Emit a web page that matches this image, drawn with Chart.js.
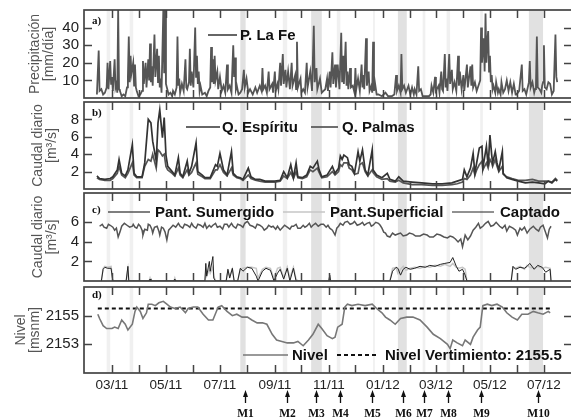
<!DOCTYPE html>
<html>
<head>
<meta charset="utf-8">
<script src="https://cdn.jsdelivr.net/npm/chart.js@4.4.1/dist/chart.umd.min.js"></script>
<style>
  html, body { margin: 0; padding: 0; background: #fff; width: 571px; height: 420px; overflow: hidden; position: relative; }
  .panel { position: absolute; left: 0; width: 580px; }
</style>
</head>
<body>
<div class="panel" style="top:0;height:100px"><canvas id="panelA" width="580" height="100"></canvas></div>
<div class="panel" style="top:100px;height:91px"><canvas id="panelB" width="580" height="91"></canvas></div>
<div class="panel" style="top:191px;height:92px"><canvas id="panelC" width="580" height="92"></canvas></div>
<div class="panel" style="top:283px;height:137px"><canvas id="panelD" width="580" height="137"></canvas></div>
<script>
// dias contados desde el 01/01/2011

// a) precipitacion diaria P. La Fe [mm/dia]
const diasPrecip = [
  42,44,45,47,49,51,53,54,55,57,58,59,60,62,63,64,65,66,67,68,
  70,72,74,76,77,78,79,80,81,83,84,85,86,87,89,91,93,94,95,97,
  98,100,101,102,103,104,105,107,108,110,111,112,113,114,115,117,118,119,120,121,
  123,125,127,128,130,132,133,134,135,136,138,140,142,143,144,146,147,148,149,151,
  153,154,155,156,157,158,159,161,164,166,168,170,171,172,173,174,175,176,178,179,
  181,183,185,187,189,190,192,194,196,197,198,199,200,202,204,206,208,209,211,213,
  215,218,221,223,226,228,229,230,232,234,236,237,240,241,243,244,246,247,249,250,
  252,253,255,256,258,260,262,263,266,267,268,269,272,273,275,277,279,280,283,285,
  287,288,290,291,294,296,298,300,302,303,305,306,308,309,311,312,314,316,318,319,
  320,321,323,324,325,326,328,329,331,333,334,335,337,339,341,342,343,344,346,347,
  349,350,352,353,354,355,356,358,360,364,368,371,375,378,380,381,383,385,386,387,
  389,391,394,396,398,400,401,403,405,406,408,410,413,417,419,420,422,424,425,428,
  429,431,432,433,435,436,437,438,440,441,443,444,446,448,450,451,452,454,456,457,
  460,461,464,465,466,467,469,471,473,475,476,477,479,480,481,482,483,484,485,486,
  487,488,489,490,492,493,495,496,498,499,501,503,505,507,509,511,513,515,516,519,
  522,523,525,527,530,531,532,534,536,537,538,539,540,542,544,545,546,547,548,550,
  552,554,556,558,560,561,562
];
const precipLaFe = [
  2,27,4,5,2,3,6,20,5,21,8,12,4,22,6,8,3,50,5,4,
  1,2,1,6,12,35,9,24,14,20,7,19,6,4,1,2,4,21,8,20,
  6,22,10,31,9,18,7,36,12,28,9,24,6,11,3,50,14,50,8,6,
  2,3,1,4,2,6,35,7,11,3,8,4,22,6,5,9,28,7,15,6,
  40,12,24,8,15,4,7,2,3,1,4,6,29,9,22,8,24,10,15,5,
  12,4,7,3,19,5,7,3,30,12,23,5,7,2,3,5,16,6,11,3,
  5,2,6,3,7,4,17,5,7,3,15,5,8,3,15,4,8,5,20,7,
  25,8,16,6,15,5,20,7,13,5,32,6,11,3,5,3,20,6,15,4,
  41,9,17,5,11,3,4,5,11,4,15,6,26,8,19,6,19,5,37,9,
  24,8,32,7,15,5,17,6,7,3,17,5,11,4,19,6,13,5,34,7,
  15,4,7,3,32,4,9,2,2,1,3,1,1,2,13,4,7,3,25,5,
  7,3,7,2,6,2,5,2,18,4,5,1,1,1,2,7,3,12,4,7,
  3,15,5,4,25,6,11,4,25,8,16,5,9,4,24,7,15,5,13,4,
  19,6,18,7,19,6,9,4,7,10,40,20,34,15,48,20,32,38,15,24,
  9,13,5,7,3,9,3,5,2,9,3,5,10,4,9,3,8,2,2,4,
  19,4,5,2,9,21,6,9,3,5,8,35,6,5,3,7,9,30,6,5,
  9,8,2,4,36,12,9
];

// b) caudal diario [m3/s]
const diasCaudal = [
  42,45,51,57,60,65,67,70,74,77, 82,84,87,93,96,100,103,105,109,111,
  113,116,118,120,122,127,130,134,136,139, 144,146,149,154,156,161,164,170,176,178,
  181,185,189,194,196,200,204,207,213,216, 221,226,232,238,243,249,253,257,261,264,
  267,269,274,279,283,286,291,293,296,302, 308,311,315,317,319,321,325,327,330,333,
  337,339,342,345,348,353,354,358,364,370, 373,379,383,388,398,409,421,432,443,449,
  455,457,460,464,467,469,471,474,477,478, 482,484,486,488,489,492,494,496,500,501,
  505,511,518,526,534,541,548,552,556,560, 562
];
const qEspiritu = [
  1.5,1.2,1.1,1.2,1.4,2.2,3.4,1.8,1.5,2.2, 5.1,1.8,1.4,1.4,3.0,8.0,7.6,5.5,3.2,7.6,
  9.1,5.9,8.2,3.9,2.6,2.0,1.6,3.6,1.8,1.4, 3.2,1.8,2.6,5.3,2.0,1.6,1.3,1.3,2.8,2.6,
  4.1,2.2,1.6,4.3,1.8,1.4,1.3,1.1,2.4,1.4, 1.1,1.1,0.9,0.9,0.9,1.0,2.0,1.3,2.8,1.3,
  3.0,1.4,1.3,1.6,2.6,2.4,3.2,2.2,1.4,1.6, 2.6,1.8,2.4,3.8,3.4,3.9,3.6,2.8,2.6,1.8,
  4.3,3.2,4.5,2.2,1.6,4.5,2.2,1.6,1.3,1.8, 1.1,0.9,1.4,0.9,0.8,0.7,0.6,0.6,0.7,0.9,
  1.1,2.2,1.4,2.4,4.1,1.8,3.0,4.7,4.9,2.4, 4.9,2.6,6.2,3.9,3.0,4.3,3.0,2.2,4.3,1.8,
  1.3,1.1,0.9,0.7,0.8,0.7,0.6,0.9,0.7,1.1, 0.9
];
const qPalmas = [
  1.3,1.1,1.0,1.0,1.2,1.8,2.6,1.6,1.3,1.8, 3.0,1.6,1.3,1.3,2.6,3.4,3.2,4.0,2.4,4.5,
  4.3,3.8,4.0,2.6,2.2,1.8,1.5,2.4,1.6,1.3, 2.2,1.6,1.9,3.0,1.7,1.4,1.2,1.2,2.2,2.2,
  2.8,1.9,1.5,2.4,1.6,1.3,1.2,1.0,1.6,1.2, 1.0,0.9,0.8,0.8,0.8,0.9,1.5,1.2,1.9,1.2,
  2.0,1.3,1.2,1.4,2.2,2.0,2.4,1.9,1.3,1.4, 2.0,1.6,2.0,2.8,2.6,3.0,3.0,2.4,2.2,1.7,
  1.8,2.8,3.0,2.0,1.5,2.2,1.9,1.4,1.1,1.2, 0.9,0.8,1.0,0.7,0.5,0.5,0.4,0.4,0.5,0.6,
  0.8,1.2,1.1,1.6,2.4,1.6,2.2,2.8,3.2,2.2, 3.0,2.4,3.4,3.0,2.6,3.4,2.6,2.0,2.6,1.7,
  1.4,1.2,1.0,1.0,1.1,0.9,0.9,0.9,0.8,1.2, 1.0
];

// c) caudales captados [m3/s]
const diasSumergido = [
  45,48,50,53,55,57,60,62,64,66,68,70,73,76,79,82,83,85,87,89,
  91,93,94,96,99,100,102,104,105,107,110,112,113,115,117,119,121,123,125,128,
  131,134,136,139,141,144,147,149,151,154,156,159,162,164,166,169,171,173,176,178,
  181,184,186,189,191,194,196,199,201,204,207,209,212,215,218,221,223,226,229,231,
  234,236,239,241,244,246,249,252,254,257,260,262,264,267,269,272,275,277,279,282,
  284,286,289,292,295,298,301,303,305,308,311,313,315,317,320,322,325,328,331,333,
  336,339,342,344,347,350,352,354,357,360,362,364,366,368,370,373,376,379,382,385,
  388,392,395,399,402,407,411,415,418,422,426,430,434,438,441,444,447,450,453,455,
  458,461,464,467,470,473,475,478,481,484,487,490,493,497,500,503,505,508,512,515,
  517,520,522,525,528,531,535,538,541,543,546,548,551,553,555
];
const pantSumergido = [
  5.6,5.8,5.5,5.4,5.8,5.7,5.5,5.2,5.4,4.5,5.0,5.6,5.9,5.7,5.5,5.6,5.8,5.5,5.4,5.8,
  5.6,5.2,4.7,5.3,5.2,5.8,5.7,5.3,4.9,5.5,5.6,5.1,4.7,5.5,5.4,5.0,4.2,5.2,5.4,5.7,
  5.5,5.9,5.6,5.4,5.8,5.7,5.5,5.9,5.6,5.4,5.8,5.7,5.5,5.9,5.4,5.7,5.5,5.7,5.9,5.5,
  5.6,5.3,5.8,5.8,5.5,5.9,5.6,5.4,5.8,5.7,5.5,5.9,6.1,5.7,5.6,5.4,5.8,5.7,5.5,5.2,
  5.4,5.7,5.5,5.6,5.3,5.6,5.2,5.5,5.7,5.5,5.3,5.6,5.6,5.8,5.4,5.4,5.7,5.5,5.6,5.9,
  5.5,5.7,5.9,5.6,5.8,5.8,5.5,5.7,5.4,5.2,4.7,5.4,5.6,5.9,5.7,6.0,6.1,5.8,5.9,6.1,
  5.7,5.8,6.0,5.7,5.9,6.0,5.6,5.7,6.0,5.9,5.7,5.4,5.0,4.9,4.6,4.5,4.9,4.7,4.8,4.9,
  4.6,4.7,4.9,4.8,4.6,4.6,4.8,4.7,4.5,4.5,4.8,4.7,4.5,4.4,4.6,4.5,4.3,4.0,4.3,3.5,
  4.7,4.2,4.6,5.2,5.5,5.9,5.4,5.6,5.9,6.1,5.6,5.7,6.0,5.6,5.4,5.7,5.1,5.6,5.4,5.2,
  4.7,5.4,5.2,5.5,4.9,5.3,5.6,5.3,5.1,5.5,5.7,5.2,4.4,5.3,5.6
];
const diasSuperficial = [
  47,49,51,54,58,60, 75,77,78, 101,102,103, 129,130,131,
  164,165,166,169,170,173,174,176, 188,190,192,195,197,
  201,204,207,212,217,222,224,229,233,238,242,246,249,253,257,260,264,267,269,
  304,305,306,
  373,376,380,382,385,388,391,396,401,407,413,418,424,430,435,441,444,448,451,455,458,460,
  510,512,515,520,525,528,531,536,540,545,549,554,555
];
const pantSuperficial = [
  0,1.3,1.5,1.4,1.5,0, 0,1.2,0, 0,0.3,0, 0,0.3,0,
  0,1.0,0.5,1.2,0.8,1.4,0.5,0, 0,1.0,0.5,1.2,0,
  0,1.2,1.3,1.4,1.4,1.3,0.3,1.2,1.4,1.3,0.2,1.3,1.4,0.3,1.4,0.3,1.4,0.2,0,
  0,0.4,0,
  0,1.3,1.4,0.8,1.2,1.5,1.1,1.3,1.4,1.3,1.5,1.4,1.6,1.5,1.7,1.5,1.8,1.4,1.3,1.4,1.2,0,
  0,1.4,1.3,1.5,1.2,1.6,1.4,1.3,1.5,1.3,1.4,1.3,0
];
const captado = [
  0,1.2,1.4,1.3,1.3,0, 0,1.5,0, 0,0.2,0, 0,0.2,0,
  0,1.8,0.5,2.0,1.0,2.5,0.3,0, 0,1.2,0.3,1.3,0,
  0,1.3,1.0,1.4,1.3,0.5,0,1.0,1.3,1.1,0,0.8,1.2,0.2,1.3,0,1.3,0,0,
  0,0.6,0,
  0,1.0,1.4,1.3,0.6,1.2,1.4,1.2,1.3,1.5,1.4,1.6,1.5,1.7,1.8,1.9,2.4,1.5,1.0,1.2,0.6,0,
  0,1.5,1.2,1.4,1.3,1.5,1.8,1.2,1.6,1.4,0.9,1.2,0
];

// d) nivel del embalse [msnm]
const diasNivel = [
  43,45,49,53,59,62,66,70,74,77, 82,85,87,91,94,98,100,104,108,112,
  117,121,125,130,136,142,145,151,156,162, 168,173,179,183,189,195,200,206,212,217,
  223,229,234,240,245,251,257,264,269,275, 281,286,292,296,302,308,311,314,319,322,
  325,330,337,345,353,358,364,368,373,379, 385,392,399,407,415,422,430,438,441,444,
  449,455,458,464,467,472,475,478,483,488, 494,500,505,511,517,522,529,535,540,546,
  552,554
];
const nivel = [
  2155.1,2154.8,2154.3,2154.1,2154.1,2154.2,2154.1,2154.7,2154.4,2154.0,
  2154.4,2155.3,2155.6,2155.3,2154.8,2155.2,2155.8,2155.8,2155.7,2155.9,
  2156.0,2155.8,2155.6,2155.5,2155.6,2155.2,2155.5,2155.6,2155.6,2155.1,
  2154.7,2154.7,2155.6,2155.7,2155.3,2155.0,2155.1,2154.9,2154.9,2154.7,
  2154.5,2154.5,2154.4,2153.7,2153.3,2153.2,2153.1,2153.1,2153.2,2152.9,
  2153.3,2153.7,2154.4,2154.1,2153.6,2153.4,2153.5,2154.2,2154.4,2155.6,
  2155.8,2155.7,2155.8,2155.7,2155.8,2155.5,2155.2,2154.9,2154.7,2154.4,
  2154.8,2154.9,2154.9,2154.7,2154.2,2153.7,2153.4,2153.0,2152.7,2153.3,
  2153.1,2152.9,2153.3,2153.0,2153.5,2154.0,2154.2,2155.7,2155.8,2155.7,
  2155.8,2155.6,2155.2,2154.9,2154.7,2155.1,2155.1,2155.3,2155.2,2155.1,
  2155.3,2155.2
];
const diasVertimiento = [43, 554];
const nivelVertimiento = 2155.5;

// ejes
const ticksPrecip = [10, 20, 30, 40];
const ticksCaudalB = [2, 4, 6, 8];
const ticksCaudalC = [2, 4, 6];
const ticksNivel = [2153, 2155];
const etiquetasMes = ['03/11', '05/11', '07/11', '09/11', '11/11', '01/12', '03/12', '05/12', '07/12'];

// campañas de muestreo y franjas sombreadas [inicio, fin, oscura]
const muestrasDia = [209, 257, 290, 317, 353, 388, 412, 439, 476, 540];
const muestrasEtiqueta = ['M1', 'M2', 'M3', 'M4', 'M5', 'M6', 'M7', 'M8', 'M9', 'M10'];
const franjas = [
  [53, 57, 0], [79, 83, 0], [204, 210, 1], [252, 257, 0], [284, 296, 1], [313, 317, 0],
  [354, 356, 0], [382, 392, 1], [410, 413, 0], [437, 441, 0], [475, 478, 0], [530, 546, 1]
];

const X_MIN = 27.4, X_MAX = 578.7;
const SANS = '"Liberation Sans", Arial, sans-serif';
const SERIF = '"Liberation Serif", "Times New Roman", serif';
const origen = Date.UTC(2011, 0, 1);
const diaDeMes = txt => {
  const [m, a] = txt.split('/').map(Number);
  return (Date.UTC(2000 + a, m - 1, 1) - origen) / 864e5;
};
const inicioMeses = [];
for (let k = 1; k <= 19; k++) inicioMeses.push((Date.UTC(2011, k, 1) - origen) / 864e5);

const puntos = (dias, valores) => dias.map((d, i) => ({ x: d, y: valores[i] }));

// sin relleno extra de Chart.js alrededor del area de datos
const sinRelleno = s => { s.paddingTop = 0; s.paddingBottom = 0; s.paddingLeft = 0; s.paddingRight = 0; };

const panelPlugin = {
  id: 'panel',
  beforeDatasetsDraw(chart) {
    const { ctx, chartArea: a } = chart;
    const x = chart.scales.x;
    ctx.save();
    franjas.forEach(([d0, d1, oscura]) => {
      const x0 = x.getPixelForValue(d0), x1 = x.getPixelForValue(d1);
      ctx.fillStyle = oscura ? '#e1e1e1' : '#f0f0f0';
      ctx.fillRect(x0, a.top, x1 - x0, a.bottom - a.top);
    });
    ctx.restore();
  },
  afterDatasetsDraw(chart) {
    const { ctx, chartArea: a } = chart;
    const x = chart.scales.x, y = chart.scales.y;
    ctx.save();
    ctx.strokeStyle = '#444';
    ctx.lineWidth = 1.5;
    ctx.beginPath();
    inicioMeses.forEach(d => {
      const px = Math.round(x.getPixelForValue(d)) + 0.5;
      if (px < a.left + 5 || px > a.right - 5) return;
      ctx.moveTo(px, a.top); ctx.lineTo(px, a.top + 8);
      ctx.moveTo(px, a.bottom); ctx.lineTo(px, a.bottom - 8);
    });
    y.ticks.forEach(t => {
      const py = Math.round(y.getPixelForValue(t.value)) + 0.5;
      ctx.moveTo(a.left, py); ctx.lineTo(a.left + 8, py);
      ctx.moveTo(a.right, py); ctx.lineTo(a.right - 8, py);
    });
    ctx.stroke();
    ctx.lineWidth = 1.7;
    ctx.strokeRect(a.left, a.top, a.right - a.left, a.bottom - a.top);
    ctx.restore();
  },
  afterDraw(chart, args, o) {
    const { ctx, chartArea: a } = chart;
    ctx.save();
    ctx.fillStyle = '#111';
    ctx.font = 'bold 11px ' + SERIF;
    ctx.textBaseline = 'middle';
    ctx.textAlign = 'left';
    ctx.fillText(o.letra, a.left + 8, a.top + o.letraY);

    o.leyenda.forEach(it => {
      const ds = chart.data.datasets[it.ds];
      ctx.strokeStyle = ds.borderColor;
      ctx.lineWidth = ds.borderWidth;
      ctx.setLineDash(ds.borderDash || []);
      ctx.beginPath();
      ctx.moveTo(it.x0, it.y); ctx.lineTo(it.x1, it.y);
      ctx.stroke();
      ctx.setLineDash([]);
      ctx.fillStyle = '#111';
      ctx.font = 'bold 15px ' + SANS;
      ctx.fillText(ds.label, it.tx, it.y + 1);
    });

    if (o.flechas) {
      const x = chart.scales.x;
      const base = chart.height;
      ctx.fillStyle = '#111';
      ctx.strokeStyle = '#111';
      ctx.lineWidth = 1.3;
      ctx.textAlign = 'center';
      ctx.font = 'bold 11.5px ' + SERIF;
      muestrasDia.forEach((d, i) => {
        const px = Math.round(x.getPixelForValue(d)) + 0.5;
        ctx.beginPath();
        ctx.moveTo(px, base - 17); ctx.lineTo(px, base - 26);
        ctx.stroke();
        ctx.beginPath();
        ctx.moveTo(px, base - 30);
        ctx.lineTo(px - 2.5, base - 23);
        ctx.lineTo(px + 2.5, base - 23);
        ctx.closePath();
        ctx.fill();
        ctx.fillText(muestrasEtiqueta[i], px, base - 6);
      });
    }
    ctx.restore();
  }
};

function ejeY(min, max, valores, titulo, padTitulo) {
  return {
    min, max,
    afterBuildTicks: s => { s.ticks = valores.map(v => ({ value: v })); },
    afterFit: s => { s.width = 84; sinRelleno(s); },
    grid: { drawOnChartArea: false, drawTicks: false },
    border: { display: false },
    ticks: { color: '#222', padding: 5, font: { family: SANS, size: 15 }, callback: v => String(v) },
    title: {
      display: true, text: titulo, color: '#555',
      font: { family: SANS, size: 14, lineHeight: 1.0 },
      padding: { top: padTitulo, bottom: 0 }
    }
  };
}

function opciones(padTop, padBottom, ejeYcfg, ejeX, panel) {
  return {
    responsive: false,
    animation: false,
    devicePixelRatio: 1,
    layout: { padding: { top: padTop, bottom: padBottom, left: 0, right: 8 } },
    elements: { point: { radius: 0 }, line: { tension: 0 } },
    plugins: { legend: { display: false }, tooltip: { enabled: false }, panel },
    scales: { x: ejeX, y: ejeYcfg }
  };
}

const ejeXoculto = { type: 'linear', min: X_MIN, max: X_MAX, display: false };
const ejeXfechas = {
  type: 'linear', min: X_MIN, max: X_MAX,
  afterBuildTicks: s => { s.ticks = etiquetasMes.map(t => ({ value: diaDeMes(t) })); },
  afterFit: s => { s.height = 47; sinRelleno(s); },
  grid: { display: false, drawTicks: false },
  border: { display: false },
  ticks: {
    autoSkip: false, maxRotation: 0, padding: 4, color: '#222',
    font: { family: SANS, size: 13.5 },
    callback: (v, i) => etiquetasMes[i]
  }
};

new Chart(document.getElementById('panelA'), {
  type: 'line',
  data: { datasets: [
    { label: 'P. La Fe', data: puntos(diasPrecip, precipLaFe), borderColor: '#555', borderWidth: 1.8 }
  ] },
  options: opciones(10, 2, ejeY(0, 50, ticksPrecip, ['Precipitación', '[mm/día]'], 28), ejeXoculto,
    { letra: 'a)', letraY: 11, leyenda: [{ ds: 0, x0: 208, x1: 237, tx: 240, y: 35 }] }),
  plugins: [panelPlugin]
});

new Chart(document.getElementById('panelB'), {
  type: 'line',
  data: { datasets: [
    { label: 'Q. Espíritu', data: puntos(diasCaudal, qEspiritu), borderColor: '#333', borderWidth: 1.7 },
    { label: 'Q. Palmas', data: puntos(diasCaudal, qPalmas), borderColor: '#555', borderWidth: 1.7 }
  ] },
  options: opciones(2, 2, ejeY(0, 10, ticksCaudalB, ['Caudal diario', '[m³/s]'], 31), ejeXoculto,
    { letra: 'b)', letraY: 11, leyenda: [
      { ds: 0, x0: 186, x1: 220, tx: 222, y: 27 },
      { ds: 1, x0: 311, x1: 338, tx: 342, y: 27 }
    ] }),
  plugins: [panelPlugin]
});

new Chart(document.getElementById('panelC'), {
  type: 'line',
  data: { datasets: [
    { label: 'Pant. Sumergido', data: puntos(diasSumergido, pantSumergido), borderColor: '#555', borderWidth: 1.5, order: 1 },
    { label: 'Pant.Superficial', data: puntos(diasSuperficial, pantSuperficial), borderColor: '#c6c6c6', borderWidth: 1.5, order: 1 },
    { label: 'Captado', data: puntos(diasSuperficial, captado), borderColor: '#222', borderWidth: 1, order: 0 }
  ] },
  options: opciones(2, 2, ejeY(0, 9, ticksCaudalC, ['Caudal diario', '[m³/s]'], 31), ejeXoculto,
    { letra: 'c)', letraY: 17, leyenda: [
      { ds: 0, x0: 108, x1: 150, tx: 155, y: 21 },
      { ds: 1, x0: 283, x1: 325, tx: 330, y: 21 },
      { ds: 2, x0: 452, x1: 494, tx: 500, y: 21 }
    ] }),
  plugins: [panelPlugin]
});

new Chart(document.getElementById('panelD'), {
  type: 'line',
  data: { datasets: [
    { label: 'Nivel', data: puntos(diasNivel, nivel), borderColor: '#777', borderWidth: 1.6 },
    { label: 'Nivel Vertimiento: 2155.5', data: diasVertimiento.map(d => ({ x: d, y: nivelVertimiento })),
      borderColor: '#111', borderWidth: 2.2, borderDash: [4, 3] }
  ] },
  options: opciones(4, 0, ejeY(2151, 2157, ticksNivel, ['Nivel', '[msnm]'], 14), ejeXfechas,
    { letra: 'd)', letraY: 8, flechas: true, leyenda: [
      { ds: 0, x0: 243, x1: 288, tx: 292, y: 72 },
      { ds: 1, x0: 337, x1: 377, tx: 385, y: 72 }
    ] }),
  plugins: [panelPlugin]
});
</script>
</body>
</html>
